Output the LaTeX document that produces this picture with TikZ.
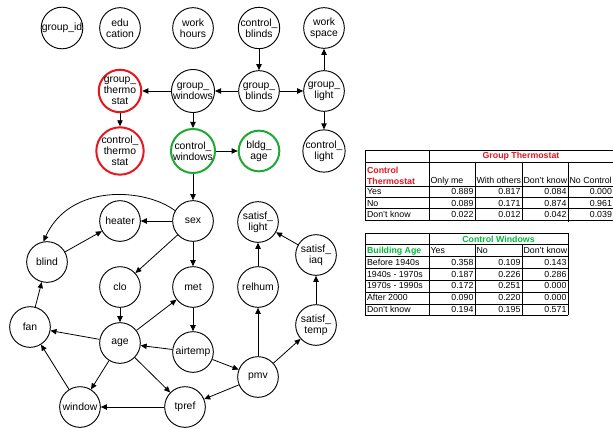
\documentclass[tikz,border=0pt]{standalone}
\usepackage{fontspec}
\setmainfont{Liberation Sans}
\usetikzlibrary{arrows.meta}
\definecolor{thermored}{RGB}{232,22,30}
\definecolor{windowgreen}{RGB}{30,170,50}
\definecolor{tablegreen}{RGB}{0,185,60}

\begin{document}
\begin{tikzpicture}[x=0.75pt,y=-0.75pt,
    var/.style={circle, draw, line width=0.7pt, minimum size=30.5pt, inner sep=0pt,
      align=center, font=\fontsize{7.8}{8.2}\selectfont},
    redvar/.style={var, draw=thermored, line width=1.5pt},
    greenvar/.style={var, draw=windowgreen, line width=1.5pt},
    link/.style={-{Triangle[length=4.5pt,width=4pt]}, line width=0.6pt},
    cell/.style={inner sep=1pt, font=\fontsize{6.6}{7.2}\selectfont},
    headcell/.style={cell, font=\fontsize{6.6}{8.3}\selectfont\bfseries},
    tabline/.style={line width=0.6pt}]
  \path[use as bounding box, fill=white] (0,0) rectangle (613,428);

  % upper rows
  \node [var] (groupid) at (62,28) {group\_id};
  \node [var] (edu) at (120,28) {edu\\cation};
  \node [var] (workhours) at (193,28) {work\\hours};
  \node [var] (ctrlblinds) at (259,28) {control\_\\blinds};
  \node [var] (workspace) at (324,28) {work\\space};
  \node [redvar] (grpthermo) at (120,91) {group\_\\thermo\\stat};
  \node [var] (grpwindows) at (193,91) {group\_\\windows};
  \node [var] (grpblinds) at (259,91) {group\_\\blinds};
  \node [var] (grplight) at (324,91) {group\_\\light};
  \node [redvar] (ctrlthermo) at (120,151) {control\_\\thermo\\stat};
  \node [greenvar] (ctrlwindows) at (193,151) {control\_\\windows};
  \node [greenvar] (bldgage) at (259,151) {bldg\_\\age};
  \node [var] (ctrllight) at (324,151) {control\_\\light};

  % lower network
  \node [var] (sex) at (193,221) {sex};
  \node [var] (heater) at (120,221) {heater};
  \node [var] (blind) at (47,262) {blind};
  \node [var] (clo) at (120,287) {clo};
  \node [var] (met) at (193,287) {met};
  \node [var] (satlight) at (258,222) {satisf\_\\light};
  \node [var] (satiaq) at (316,255) {satisf\_\\iaq};
  \node [var] (relhum) at (258,287) {relhum};
  \node [var] (fan) at (30,327) {fan};
  \node [var] (age) at (120,343) {age};
  \node [var] (airtemp) at (193,352) {airtemp};
  \node [var] (sattemp) at (316,325) {satisf\_\\temp};
  \node [var] (pmv) at (258,377) {pmv};
  \node [var] (window) at (80,407) {window};
  \node [var] (tpref) at (185,407) {tpref};

  \foreach \from/\to in {ctrlblinds/grpblinds, grpblinds/grpwindows, grpblinds/grplight,
      grpwindows/grpthermo, grplight/workspace, grplight/ctrllight, grpthermo/ctrlthermo,
      grpwindows/ctrlwindows, ctrlwindows/bldgage, ctrlwindows/sex, sex/heater,
      blind/heater, sex/clo, sex/met, clo/age, age/met, met/airtemp, airtemp/age,
      airtemp/pmv, age/fan, age/window, age/tpref, fan/blind, window/fan, tpref/window,
      pmv/tpref, pmv/relhum, relhum/satlight, pmv/sattemp, sattemp/satiaq, satiaq/satlight}
    \draw [link] (\from) -- (\to);
  \draw [link] (sex.150) .. controls (145,188) and (70,183) .. (blind.100);

  % group thermostat table
  \foreach \y in {150,162,186,197,208,220}
    \draw [tabline] (365,\y) -- (613,\y);
  \draw [tabline] (365,150) -- (365,220) (429,150) -- (429,220);
  \foreach \x in {475,522}
    \draw [tabline] (\x,162) -- (\x,220);
  \draw [tabline] (568,162) -- (568,222);
  \node [headcell, text=thermored] (gt-title) at (521,156) {Group Thermostat};
  \node [headcell, text=thermored, anchor=south west, align=left] (gt-rowhead) at (365.5,186) {Control\\Thermostat};
  \foreach \x/\head [count=\c] in {429/Only me, 475/With others, 522/Don't know, 568/No Control}
    \node [cell, anchor=base west] (gt-head-\c) at (\x,183.2) {\head};
  \foreach \lab/\va/\vb/\vc/\vd [count=\r] in {Yes/0.889/0.817/0.084/0.000,
      No/0.089/0.171/0.874/0.961, Don't know/0.022/0.012/0.042/0.039} {
    \node [cell, anchor=base west] (gt-lab-\r) at (365.5,183.4+\r*11.33) {\lab};
    \node [cell, anchor=base east] (gt-a-\r) at (475,183.4+\r*11.33) {\va};
    \node [cell, anchor=base east] (gt-b-\r) at (522,183.4+\r*11.33) {\vb};
    \node [cell, anchor=base east] (gt-c-\r) at (568,183.4+\r*11.33) {\vc};
    \node [cell, anchor=base east] (gt-d-\r) at (613.5,183.4+\r*11.33) {\vd};
  }

  % control windows table
  \foreach \y in {233,244,256,268,280,292,304,315}
    \draw [tabline] (365,\y) -- (568,\y);
  \draw [tabline] (365,233) -- (365,315) (429,233) -- (429,315) (568,233) -- (568,315);
  \foreach \x in {475,522}
    \draw [tabline] (\x,244) -- (\x,315);
  \node [headcell, text=tablegreen] (cw-title) at (498.5,239) {Control Windows};
  \node [headcell, text=tablegreen, anchor=base west] (cw-rowhead) at (365.5,253.2) {Building Age};
  \foreach \x/\head [count=\c] in {429/Yes, 475/No, 522/Don't know}
    \node [cell, anchor=base west] (cw-head-\c) at (\x,253.2) {\head};
  \foreach \lab/\va/\vb/\vc [count=\r] in {Before 1940s/0.358/0.109/0.143,
      1940s - 1970s/0.187/0.226/0.286, 1970s - 1990s/0.172/0.251/0.000,
      After 2000/0.090/0.220/0.000, Don't know/0.194/0.195/0.571} {
    \node [cell, anchor=base west] (cw-lab-\r) at (365.5,253.4+\r*11.8) {\lab};
    \node [cell, anchor=base east] (cw-a-\r) at (475,253.4+\r*11.8) {\va};
    \node [cell, anchor=base east] (cw-b-\r) at (522,253.4+\r*11.8) {\vb};
    \node [cell, anchor=base east] (cw-c-\r) at (568,253.4+\r*11.8) {\vc};
  }
\end{tikzpicture}
\end{document}
